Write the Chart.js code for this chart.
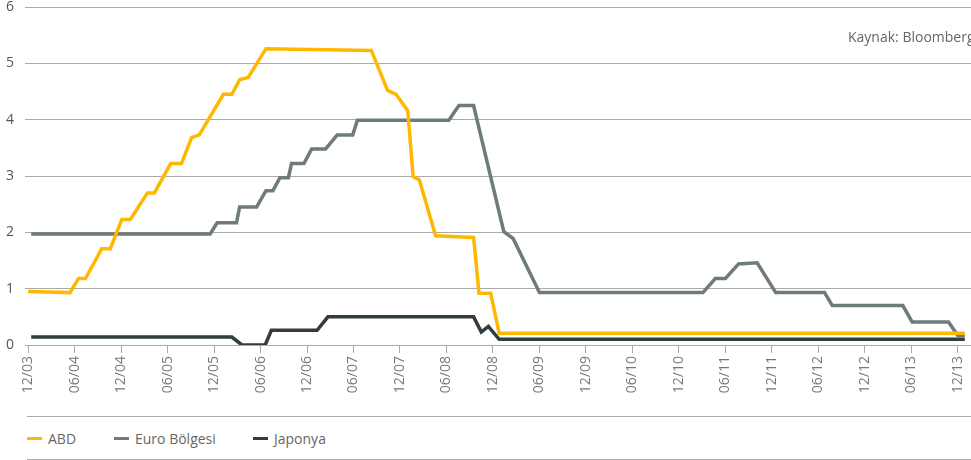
<!DOCTYPE html>
<html><head><meta charset="utf-8">
<script src="https://cdn.jsdelivr.net/npm/chart.js@4.4.0/dist/chart.umd.min.js"></script>
<style>
html,body{margin:0;padding:0;background:#fff;overflow:hidden;width:971px;height:460px;font-family:"Open Sans",sans-serif;}
#wrap{position:absolute;left:0;top:0;width:971px;height:400px;}
#src{position:absolute;left:848px;top:27px;font-size:14px;color:#666;white-space:nowrap;}
#legend{position:absolute;left:27px;top:416px;width:944px;height:42px;border-top:1px solid #aaa;border-bottom:1px solid #aaa;}
.item{position:absolute;top:0;height:42px;display:flex;align-items:center;font-size:14px;color:#666;white-space:nowrap;}
.dash{width:15px;height:3px;margin-right:6px;}
</style></head><body>
<div id="wrap"><canvas id="c"></canvas></div>
<div id="src">Kaynak: Bloomberg</div>
<div id="legend"></div>
<script>
// x values are months since Dec 2003
const tickMonths = [0,6,12,18,24,30,36,42,48,54,60,66,72,78,84,90,96,102,108,114,120];
const tickLabels = ["12/03","06/04","12/04","06/05","12/05","06/06","12/06","06/07","12/07","06/08","12/08","06/09","12/09","06/10","12/10","06/11","12/11","06/12","12/12","06/13","12/13"];

const seriesNames = ["ABD","Euro Bölgesi","Japonya"];

const abdMonths = [0,5.4,6.5,7.4,9.5,10.6,12.1,13.2,15.4,16.3,18.4,19.8,21.1,22.1,25.2,26.3,27.3,28.4,30.7,44.3,46.4,47.5,49.0,49.7,50.5,52.6,57.5,58.2,59.7,60.8,120.9];
const abdValues = [0.95,0.93,1.18,1.18,1.71,1.71,2.23,2.23,2.70,2.70,3.22,3.22,3.68,3.73,4.45,4.45,4.71,4.75,5.26,5.23,4.52,4.45,4.16,2.99,2.93,1.94,1.91,0.92,0.92,0.21,0.21];

const euroMonths = [0.4,23.5,24.4,26.9,27.3,29.5,30.7,31.6,32.5,33.6,34.0,35.6,36.6,38.4,39.9,41.9,42.5,54.3,55.6,57.5,61.4,62.6,66.0,87.1,88.7,90.0,91.7,94.1,96.5,102.8,103.8,112.9,114.1,118.8,120.0,120.9];
const euroValues = [1.97,1.97,2.17,2.17,2.45,2.45,2.74,2.74,2.97,2.97,3.22,3.22,3.48,3.48,3.73,3.73,3.99,3.99,4.25,4.25,2.01,1.89,0.93,0.93,1.18,1.18,1.44,1.46,0.93,0.93,0.70,0.70,0.41,0.41,0.17,0.17];

const japanMonths = [0.4,26.3,27.6,30.6,31.4,37.3,38.7,57.5,58.5,59.4,60.8,120.9];
const japanValues = [0.14,0.14,0,0,0.26,0.26,0.50,0.50,0.23,0.33,0.10,0.10];

const colors = ["#ffb800","#6e7b7d","#333c3e"];

function pts(ms, vs){ return ms.map((m,i)=>({x:m,y:vs[i]})); }

const datasets = [
  {label:seriesNames[0], data:pts(abdMonths,abdValues), borderColor:colors[0]},
  {label:seriesNames[1], data:pts(euroMonths,euroValues), borderColor:colors[1]},
  {label:seriesNames[2], data:pts(japanMonths,japanValues), borderColor:colors[2]}
].map(d=>Object.assign(d,{borderWidth:3.5,pointRadius:0,tension:0,fill:false,borderJoinStyle:'miter'}));

const chart = new Chart(document.getElementById('c'), {
  type:'line',
  data:{datasets},
  options:{
    responsive:true, maintainAspectRatio:false, animation:false,
    layout:{padding:{left:0,right:0,top:7,bottom:0}},
    plugins:{legend:{display:false}, tooltip:{enabled:false}},
    scales:{
      x:{
        type:'linear', min:-0.4, max:121.7,
        afterBuildTicks:(s)=>{ s.ticks = tickMonths.map(v=>({value:v})); },
        afterFit:(s)=>{ s.height = 55; s.paddingLeft = 0; s.paddingRight = 0; },
        ticks:{autoSkip:false, maxRotation:90, minRotation:90, padding:3, color:'#777',
          font:{family:'"Open Sans", sans-serif', size:14},
          callback:(v,i)=>tickLabels[i]},
        grid:{drawOnChartArea:false, drawTicks:true, tickLength:8, color:'#aaa'},
        border:{display:false}
      },
      y:{
        min:0, max:6,
        afterFit:(s)=>{ s.width = 25; s.paddingTop = 0; s.paddingBottom = 0; },
        ticks:{stepSize:1, padding:11, color:'#555', font:{family:'"Open Sans", sans-serif', size:14}},
        grid:{color:'#aaa', drawTicks:false},
        border:{display:false}
      }
    }
  }
});

const legendOffsets = [0,87,226];
const leg = document.getElementById('legend');
chart.data.datasets.forEach((d,i)=>{
  const it = document.createElement('div');
  it.className='item';
  it.style.left = legendOffsets[i]+'px';
  it.innerHTML = '<span class="dash" style="background:'+d.borderColor+'"></span><span>'+d.label+'</span>';
  leg.appendChild(it);
});
</script>
</body></html>
